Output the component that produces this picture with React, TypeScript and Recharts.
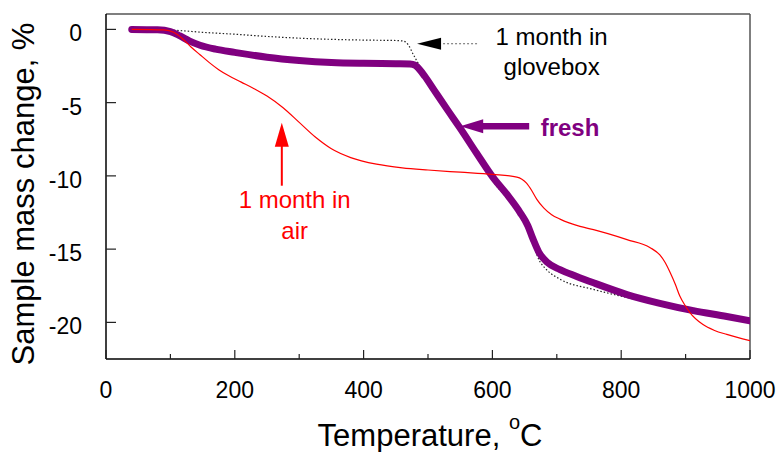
import { LineChart, Line, XAxis, YAxis, ReferenceLine, ReferenceDot, Label } from "recharts";

const FONT = '"Liberation Sans", Arial, sans-serif';

// ── Data ────────────────────────────────────────────────────────────────────

const freshTemp = [40, 80, 100, 115, 130, 146, 170, 200, 250, 300, 350, 400, 450, 472, 480, 487, 495, 510, 530, 550, 575, 600, 625, 643, 655, 663, 672, 685, 705, 730, 757, 809, 860, 912, 964, 1000];
const freshMass = [0, -0.03, -0.15, -0.45, -0.8, -1.08, -1.35, -1.57, -1.9, -2.12, -2.26, -2.32, -2.35, -2.37, -2.45, -2.75, -3.2, -4.18, -5.48, -6.75, -8.42, -10.05, -11.4, -12.5, -13.4, -14.3, -15.2, -15.9, -16.4, -16.85, -17.3, -18.1, -18.7, -19.2, -19.6, -19.9];

const gloveTemp = [40, 80, 110, 150, 200, 250, 300, 350, 400, 450, 462, 470, 477, 482, 490, 500, 550, 600, 645, 660, 672, 684, 705, 757, 809, 860, 912, 964, 1000];
const gloveMass = [0, -0.02, -0.07, -0.2, -0.33, -0.48, -0.6, -0.68, -0.73, -0.76, -0.8, -1.1, -1.7, -2.1, -2.7, -3.4, -6.8, -10.3, -12.9, -14.2, -15.7, -16.4, -17.05, -17.75, -18.3, -18.75, -19.2, -19.6, -19.9];

const airTemp = [40, 90, 105, 118, 132, 146, 160, 175, 190, 210, 230, 250, 275, 300, 325, 350, 380, 420, 460, 500, 550, 600, 638, 653, 661, 669, 680, 692, 705, 736, 757, 809, 845, 860, 868, 876, 884, 891, 900, 907, 927, 945, 964, 1000];
const airMass = [0, -0.04, -0.2, -0.6, -1.2, -1.73, -2.25, -2.75, -3.15, -3.6, -4.05, -4.55, -5.35, -6.35, -7.35, -8.15, -8.75, -9.2, -9.45, -9.6, -9.75, -9.9, -10.08, -10.5, -11.0, -11.6, -12.2, -12.65, -12.95, -13.45, -13.67, -14.35, -14.9, -15.4, -15.9, -16.6, -17.4, -18.2, -18.9, -19.35, -20.15, -20.55, -20.82, -21.25];

const xTicks = [0, 100, 200, 300, 400, 500, 600, 700, 800, 900, 1000];
const yTicks = [-20, -15, -10, -5, 0];

const zip = (ts: number[], ms: number[]) => ts.map((t, i) => ({ t, m: ms[i] }));

const freshData = zip(freshTemp, freshMass);
const gloveData = zip(gloveTemp, gloveMass);
const airData = zip(airTemp, airMass);

// ── Ticks (drawn inward, labels outside) ────────────────────────────────────

function XTick({ x, y, payload }: any) {
  const major = payload.value % 200 === 0;
  return (
    <g>
      <line x1={x} x2={x} y1={y} y2={y - (major ? 9 : 5)} stroke="#222" strokeWidth={1.2} />
      {major && (
        <text x={x} y={y + 39} textAnchor="middle" fontSize={23} fontFamily={FONT} fill="#000">
          {payload.value}
        </text>
      )}
    </g>
  );
}

function YTick({ x, y, payload }: any) {
  return (
    <g>
      <line x1={x} x2={x + 10} y1={y} y2={y} stroke="#222" strokeWidth={1.2} />
      <text x={x - 24} y={y + 12} textAnchor="end" fontSize={23} fontFamily={FONT} fill="#000">
        {payload.value}
      </text>
    </g>
  );
}

// ── Annotations (anchored in data coordinates) ──────────────────────────────

const gloveArrow = (p: any) => (
  <g>
    <polygon points={`${p.cx},${p.cy} ${p.cx + 24},${p.cy - 6} ${p.cx + 24},${p.cy + 6}`} fill="#000" />
    <line x1={p.cx + 26} x2={p.cx + 62} y1={p.cy} y2={p.cy} stroke="#666" strokeDasharray="2 2" />
  </g>
);

const gloveText = (p: any) => (
  <text x={p.cx} y={p.cy} textAnchor="middle" fontSize={24} fontFamily={FONT} fill="#000">
    <tspan x={p.cx}>1 month in</tspan>
    <tspan x={p.cx} dy={30}>glovebox</tspan>
  </text>
);

const freshArrow = (p: any) => (
  <g>
    <line x1={p.cx + 18} x2={p.cx + 69} y1={p.cy} y2={p.cy} stroke="#800080" strokeWidth={6.5} />
    <polygon points={`${p.cx},${p.cy} ${p.cx + 23},${p.cy - 7} ${p.cx + 23},${p.cy + 7}`} fill="#800080" />
  </g>
);

const freshText = (p: any) => (
  <text x={p.cx} y={p.cy} fontSize={24} fontWeight="bold" fontFamily={FONT} fill="#800080">
    fresh
  </text>
);

const airArrow = (p: any) => (
  <g>
    <line x1={p.cx} x2={p.cx} y1={p.cy + 20} y2={p.cy + 63} stroke="#ff0000" strokeWidth={2} />
    <polygon points={`${p.cx},${p.cy} ${p.cx - 7},${p.cy + 24} ${p.cx + 7},${p.cy + 24}`} fill="#ff0000" />
  </g>
);

const airText = (p: any) => (
  <text x={p.cx} y={p.cy} textAnchor="middle" fontSize={24} fontFamily={FONT} fill="#ff0000">
    <tspan x={p.cx}>1 month in</tspan>
    <tspan x={p.cx} dy={31}>air</tspan>
  </text>
);

// ── Axis titles ─────────────────────────────────────────────────────────────

const xTitle = ({ viewBox }: any) => {
  const cx = viewBox.x + viewBox.width / 2 + 2;
  const by = viewBox.y + 87;
  return (
    <text x={cx} y={by} textAnchor="middle" fontSize={31} fontFamily={FONT} fill="#000">
      Temperature,{" "}
      <tspan dy={-17} fontSize={20}>o</tspan>
      <tspan dy={17}>C</tspan>
    </text>
  );
};

const yTitle = () => (
  <text
    x={34}
    y={194}
    transform="rotate(-90, 34, 194)"
    textAnchor="middle"
    fontSize={31}
    fontFamily={FONT}
    fill="#000"
  >
    Sample mass change, %
  </text>
);

export default function App() {
  return (
    <div style={{ position: "absolute", left: 0, top: 0, background: "#fff" }}>
      <LineChart width={778} height={452} margin={{ top: 14, right: 28, bottom: 0, left: 0 }}>
        <XAxis
          dataKey="t"
          type="number"
          domain={[0, 1000]}
          ticks={xTicks}
          interval={0}
          height={93}
          tickSize={0}
          tickMargin={0}
          tickLine={false}
          tick={<XTick />}
          axisLine={{ stroke: "#000", strokeWidth: 1.5 }}
          allowDataOverflow
        >
          <Label content={xTitle} />
        </XAxis>
        <YAxis
          type="number"
          domain={[-22.5, 1.05]}
          ticks={yTicks}
          interval={0}
          width={106}
          tickSize={0}
          tickMargin={0}
          tickLine={false}
          tick={<YTick />}
          axisLine={{ stroke: "#000", strokeWidth: 1.5 }}
          allowDataOverflow
        >
          <Label content={yTitle} />
        </YAxis>
        <ReferenceLine y={1.05} stroke="#7f7f7f" strokeWidth={2} />
        <ReferenceLine x={1000} stroke="#555" strokeWidth={1.5} />
        <Line
          data={gloveData}
          dataKey="m"
          type="monotone"
          stroke="#222"
          strokeWidth={1.2}
          strokeDasharray="1.5 2"
          dot={false}
          isAnimationActive={false}
        />
        <Line
          data={freshData}
          dataKey="m"
          type="monotone"
          stroke="#800080"
          strokeWidth={7}
          strokeLinecap="round"
          dot={false}
          isAnimationActive={false}
        />
        <Line
          data={airData}
          dataKey="m"
          type="monotone"
          stroke="#ff0000"
          strokeWidth={1.2}
          dot={false}
          isAnimationActive={false}
        />
        <ReferenceDot x={483} y={-0.98} r={0} shape={gloveArrow} />
        <ReferenceDot x={692} y={-1.05} r={0} shape={gloveText} />
        <ReferenceDot x={550} y={-6.61} r={0} shape={freshArrow} />
        <ReferenceDot x={675} y={-7.26} r={0} shape={freshText} />
        <ReferenceDot x={273} y={-6.37} r={0} shape={airArrow} />
        <ReferenceDot x={293} y={-12.17} r={0} shape={airText} />
      </LineChart>
    </div>
  );
}
